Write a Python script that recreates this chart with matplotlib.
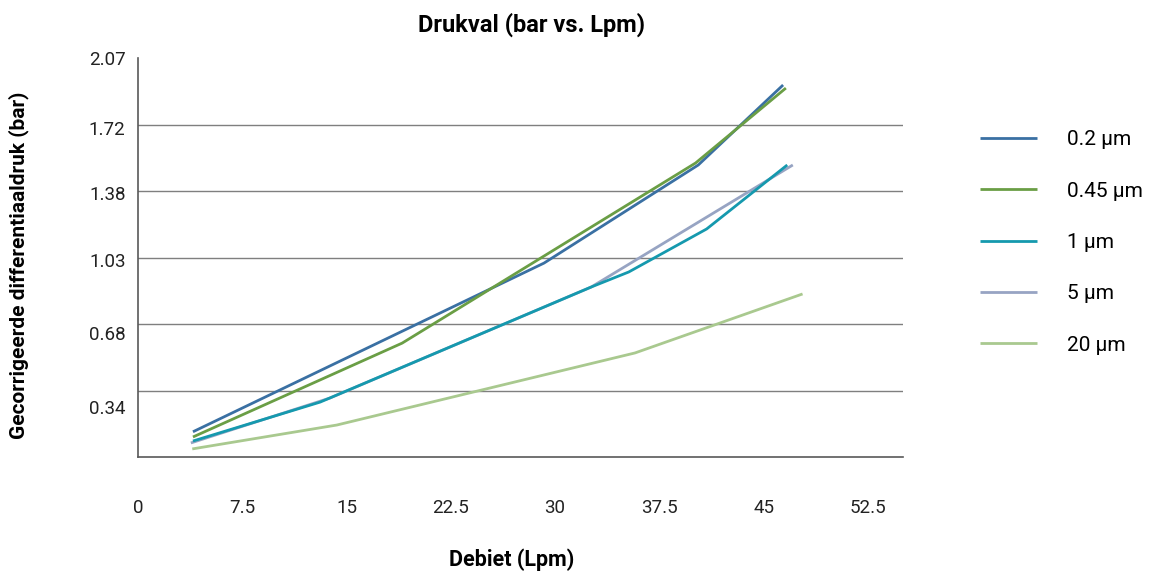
import numpy as np
import matplotlib.pyplot as plt
from matplotlib.ticker import FixedLocator, NullFormatter

plt.rcParams['font.family'] = ['Roboto', 'DejaVu Sans']

# values
x_02 = [3.95, 29.2, 40.3, 46.4]
y_02 = [0.131, 1.006, 1.515, 1.93]

x_045 = [3.95, 19.0, 40.1, 46.6]
y_045 = [0.104, 0.591, 1.525, 1.914]

x_1 = [3.95, 13.1, 32.6, 35.3, 40.9, 46.7]
y_1 = [0.083, 0.285, 0.882, 0.96, 1.183, 1.515]

x_5 = [3.8, 13.8, 32.6, 47.1]
y_5 = [0.073, 0.306, 0.882, 1.515]

x_20 = [3.9, 14.3, 35.75, 47.8]
y_20 = [0.042, 0.166, 0.540, 0.846]

labels = ['0.2 µm', '0.45 µm', '1 µm', '5 µm', '20 µm']
colors = ['#3a70a3', '#6a9e45', '#1599ae', '#97a4c3', '#a9c98f']

x_ticks = [0, 7.5, 15, 22.5, 30, 37.5, 45, 52.5]
x_ticklabels = ['0', '7.5', '15', '22.5', '30', '37.5', '45', '52.5']
grid_y = [0.345, 0.69, 1.035, 1.38, 1.725, 2.07]
y_label_pos = [0.259, 0.643, 1.022, 1.37, 1.707, 2.07]
y_ticklabels = ['0.34', '0.68', '1.03', '1.38', '1.72', '2.07']

fig = plt.figure(figsize=(11.62, 5.72), dpi=100)
ax = fig.add_axes([0.1188, 0.201, 0.658, 0.6976])

series = [(x_02, y_02), (x_045, y_045), (x_1, y_1), (x_5, y_5), (x_20, y_20)]
# 5 um goes under 1 um like the original
order = [0, 1, 3, 2, 4]
lines = {}
for i in order:
    xs, ys = series[i]
    lines[i], = ax.plot(xs, ys, color=colors[i], lw=2.0, label=labels[i],
                        solid_capstyle='butt')

ax.set_xlim(0, 55)
ax.set_ylim(0, 2.07)

ax.set_xticks(x_ticks)
ax.set_xticklabels(x_ticklabels)
ax.yaxis.set_major_locator(FixedLocator(y_label_pos))
ax.set_yticklabels(y_ticklabels)
ax.yaxis.set_minor_locator(FixedLocator(grid_y))
ax.yaxis.set_minor_formatter(NullFormatter())
ax.grid(False)
ax.grid(True, which='minor', axis='y', color='#7f7f7f', lw=1.0)
ax.set_axisbelow(True)

ax.tick_params(axis='x', length=0, pad=30, labelsize=13.5, colors='#222222')
ax.tick_params(axis='y', which='major', length=0, pad=9, labelsize=13.5, colors='#222222')
ax.tick_params(axis='y', which='minor', length=0)

for s in ['top', 'right']:
    ax.spines[s].set_visible(False)
for s in ['left', 'bottom']:
    ax.spines[s].set_color('#595959')
    ax.spines[s].set_linewidth(1.2)

ax.set_title('Drukval (bar vs. Lpm)', fontsize=17, fontweight='bold', pad=19, x=0.515)
ax.set_xlabel('Debiet (Lpm)', fontsize=15.5, fontweight='bold')
ax.set_ylabel('Gecorrigeerde differentiaaldruk (bar)', fontsize=15, fontweight='bold')
ax.xaxis.set_label_coords(0.488, -0.23)
ax.yaxis.set_label_coords(-0.142, 0.48)

handles = [lines[i] for i in range(5)]
fig.legend(handles, labels, loc='center left', bbox_to_anchor=(0.843, 0.576),
           frameon=False, fontsize=15, handlelength=2.75, handletextpad=1.45,
           labelspacing=1.55, borderpad=0, borderaxespad=0)

fig.savefig('out.png', dpi=100)
